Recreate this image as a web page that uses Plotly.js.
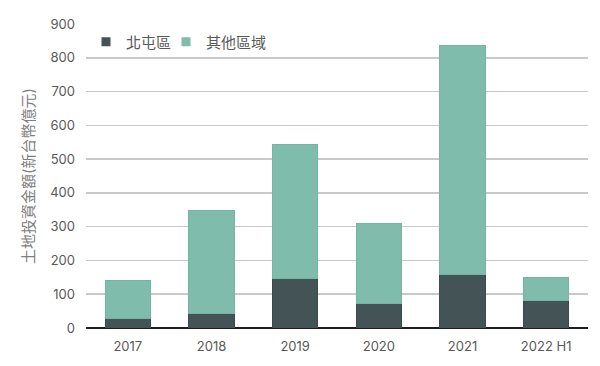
<!DOCTYPE html>
<html><head><meta charset="utf-8">
<script src="https://cdn.plot.ly/plotly-3.0.1.min.js"></script>
<style>html,body{margin:0;padding:0;background:#fff;}</style>
</head><body>
<div id="chart" style="width:600px;height:366px;"></div>
<script>
const categories = ["2017", "2018", "2019", "2020", "2021", "2022 H1"];
const beitun = [28, 43, 146, 73, 157, 80];
const others = [112, 304, 397, 236, 679, 71];
const seriesNames = ["北屯區", "其他區域"];
const colors = ["#435356", "#80bcac"];

const font = "Inter, 'Noto Sans CJK TC', sans-serif";
const data = [
  {type: "bar", x: categories, y: beitun, name: seriesNames[0], showlegend: false, legendgroup: "a",
   marker: {color: colors[0], line: {color: "#3d4a4c", width: 1}}},
  {type: "bar", x: categories, y: others, name: seriesNames[1], showlegend: false, legendgroup: "b",
   marker: {color: colors[1], line: {color: "#74b4a2", width: 1}}},
  {type: "scatter", mode: "markers", x: [null], y: [null], name: seriesNames[0], legendgroup: "a",
   marker: {symbol: "square", size: 9, color: colors[0]}},
  {type: "scatter", mode: "markers", x: [null], y: [null], name: seriesNames[1], legendgroup: "b",
   marker: {symbol: "square", size: 9, color: colors[1]}},
  {type: "scatter", mode: "markers", x: [null], y: [null], name: "\u00a0", legendgroup: "c",
   marker: {symbol: "square", size: 1, color: "rgba(0,0,0,0)"}}
];
const layout = {
  width: 600, height: 366,
  margin: {l: 86, r: 12, t: 24, b: 38},
  barmode: "stack", bargap: 0.46,
  paper_bgcolor: "#fff", plot_bgcolor: "#fff",
  font: {family: font, color: "#595959", size: 13},
  showlegend: true,
  legend: {orientation: "h", x: 0.0, y: 0.995, xanchor: "left", yanchor: "top",
           font: {family: font, size: 15, color: "#595959"}, itemwidth: 30,
           entrywidth: 35, entrywidthmode: "pixels",
           bgcolor: "rgba(0,0,0,0)", traceorder: "normal"},
  xaxis: {type: "category", showgrid: false, ticks: "", tickfont: {size: 13, color: "#595959"},
          ticklabelstandoff: 9, showline: false, zeroline: false},
  yaxis: {range: [0, 900], dtick: 100, showgrid: true, gridcolor: "#c9c9c9", gridwidth: 1.5,
          zeroline: true, zerolinecolor: "#1f1f1f", zerolinewidth: 2,
          ticks: "", ticklabelstandoff: 10, tickfont: {size: 13, color: "#595959"},
          title: {text: "土地投資金額(新台幣億元)", font: {size: 15, color: "#7f7f7f", family: font}, standoff: 11}}
};
Plotly.newPlot("chart", data, layout, {displayModeBar: false, staticPlot: true});
</script>
</body></html>
